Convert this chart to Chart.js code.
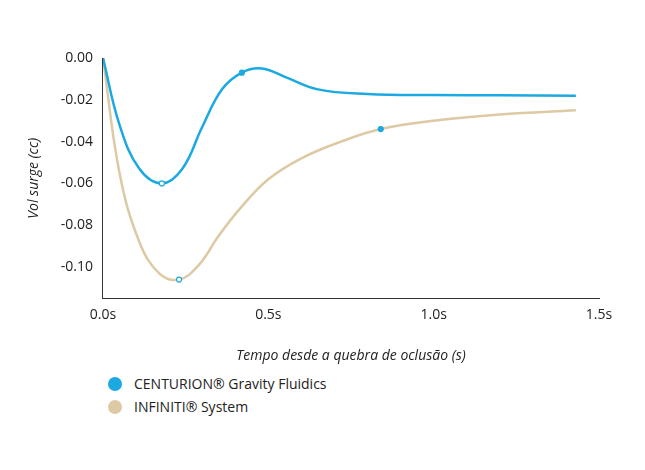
<!DOCTYPE html>
<html><head><meta charset="utf-8">
<script src="https://cdn.jsdelivr.net/npm/chart.js@4"></script>
<style>
body{margin:0;background:#fff;font-family:"Open Sans",sans-serif;}
#wrap{position:absolute;left:0;top:0;width:645px;height:370px;}
.leg{position:absolute;left:108px;font-size:14px;color:#222;}
.dot{display:inline-block;width:14px;height:14px;border-radius:50%;vertical-align:-2px;margin-right:12px;}
</style></head><body>
<div id="wrap"><canvas id="c"></canvas></div>
<div class="leg" style="top:374px"><span class="dot" style="background:#1ba9e1"></span>CENTURION® Gravity Fluidics</div>
<div class="leg" style="top:397px"><span class="dot" style="background:#ddc9a3"></span>INFINITI® System</div>
<script>
const blueX = [0, 0.05, 0.11, 0.178, 0.24, 0.3, 0.36, 0.42, 0.48, 0.55, 0.65, 0.8, 1.0, 1.2, 1.43];
const blueY = [0, -0.032, -0.053, -0.060, -0.053, -0.033, -0.015, -0.007, -0.005, -0.009, -0.015, -0.0172, -0.0177, -0.0178, -0.018];
const beigeX = [0, 0.05, 0.11, 0.17, 0.23, 0.29, 0.35, 0.42, 0.5, 0.6, 0.72, 0.84, 1.0, 1.2, 1.43];
const beigeY = [0, -0.055, -0.088, -0.103, -0.106, -0.099, -0.085, -0.071, -0.058, -0.048, -0.040, -0.034, -0.030, -0.027, -0.025];
const markX = [0.178, 0.42, 0.23, 0.84];
const markY = [-0.060, -0.007, -0.106, -0.034];
const markFill = ['#fff', '#1ba9e1', '#fff', '#1ba9e1'];
const yTicks = [0, -0.02, -0.04, -0.06, -0.08, -0.10];
const xTicks = [0, 0.5, 1.0, 1.5];

const pts = (xs, ys) => xs.map((x, i) => ({x: x, y: ys[i]}));

new Chart(document.getElementById('c'), {
    type: 'line',
    data: {
        datasets: [{
            data: pts(markX, markY),
            showLine: false,
            pointRadius: 2.5,
            pointBackgroundColor: markFill,
            pointBorderColor: '#1ba9e1',
            pointBorderWidth: 1.2
        }, {
            data: pts(blueX, blueY),
            borderColor: '#1ba9e1',
            borderWidth: 2.5,
            pointRadius: 0,
            tension: 0.4
        }, {
            data: pts(beigeX, beigeY),
            borderColor: '#ddc9a3',
            borderWidth: 2.5,
            pointRadius: 0,
            tension: 0.4
        }]
    },
    options: {
        responsive: true,
        maintainAspectRatio: false,
        animation: false,
        layout: {padding: {left: 22, right: 46, top: 58, bottom: 2}},
        plugins: {legend: {display: false}, tooltip: {enabled: false}},
        scales: {
            x: {
                type: 'linear', min: 0, max: 1.5,
                afterBuildTicks: s => { s.ticks = xTicks.map(v => ({value: v})); },
                grid: {display: false, drawTicks: false},
                border: {color: '#333', width: 1},
                ticks: {color: '#222', font: {size: 14, family: 'Open Sans'}, padding: 8,
                    callback: v => v.toFixed(1) + 's'},
                title: {display: true, text: 'Tempo desde a quebra de oclusão (s)', color: '#222',
                    font: {size: 14, style: 'italic', family: 'Open Sans'}, padding: {top: 16}}
            },
            y: {
                min: -0.115, max: 0,
                afterBuildTicks: s => { s.ticks = yTicks.map(v => ({value: v})); },
                grid: {display: false, drawTicks: false},
                border: {color: '#333', width: 1},
                ticks: {color: '#222', font: {size: 14, family: 'Open Sans'}, padding: 10,
                    callback: v => v.toFixed(2)},
                title: {display: true, text: 'Vol surge (cc)', color: '#222',
                    font: {size: 14, style: 'italic', family: 'Open Sans'}, padding: {bottom: 8}}
            }
        }
    }
});
</script>
</body></html>
